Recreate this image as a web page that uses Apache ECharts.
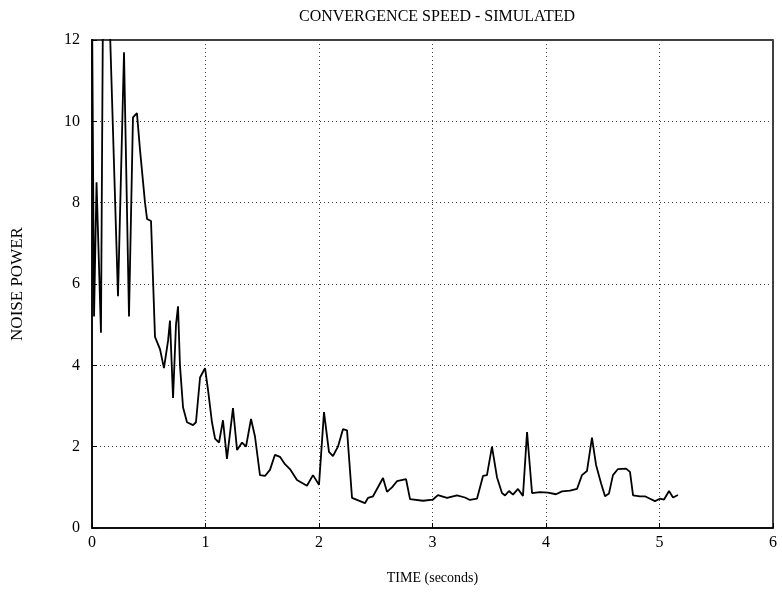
<!DOCTYPE html>
<html>
<head>
<meta charset="utf-8">
<script src="https://cdn.jsdelivr.net/npm/echarts@6/dist/echarts.min.js"></script>
<style>
html,body{margin:0;padding:0;background:#fff;}
#chart{width:782px;height:599px;}
</style>
</head>
<body>
<div id="chart"></div>
<script>
var timeSec = [0,0.018,0.040,0.079,0.097,0.150,0.229,0.282,0.326,0.361,0.396,0.423,0.467,0.485,0.520,0.555,0.599,0.634,0.670,0.687,0.714,0.740,0.758,0.775,0.802,0.837,0.890,0.916,0.952,0.996,1.022,1.057,1.084,1.119,1.154,1.189,1.242,1.278,1.322,1.357,1.401,1.436,1.480,1.524,1.568,1.612,1.656,1.700,1.744,1.806,1.894,1.947,2.000,2.044,2.088,2.123,2.167,2.211,2.247,2.291,2.405,2.432,2.476,2.564,2.599,2.643,2.687,2.767,2.802,2.916,3.004,3.048,3.128,3.216,3.286,3.330,3.392,3.445,3.480,3.524,3.568,3.612,3.639,3.674,3.709,3.753,3.797,3.833,3.877,3.947,4.018,4.088,4.141,4.211,4.273,4.317,4.361,4.405,4.441,4.485,4.520,4.555,4.590,4.634,4.705,4.740,4.767,4.828,4.872,4.916,4.960,5.004,5.040,5.084,5.119,5.163];
var noisePower = [13,5.2,8.5,4.8,13,13,5.7,11.7,5.2,10.1,10.2,9.3,8.0,7.6,7.55,4.7,4.4,3.93,4.6,5.1,3.2,5.0,5.45,4.0,2.97,2.6,2.53,2.6,3.7,3.93,3.4,2.6,2.2,2.1,2.65,1.7,2.95,1.92,2.1,2.0,2.68,2.25,1.3,1.28,1.43,1.8,1.75,1.57,1.45,1.18,1.04,1.3,1.06,2.85,1.87,1.77,2.0,2.43,2.4,0.74,0.61,0.74,0.78,1.23,0.89,1.0,1.15,1.2,0.71,0.67,0.7,0.81,0.74,0.8,0.75,0.69,0.72,1.28,1.3,2.0,1.25,0.86,0.8,0.91,0.82,0.96,0.79,2.36,0.86,0.88,0.87,0.83,0.9,0.92,0.96,1.3,1.4,2.22,1.55,1.1,0.78,0.85,1.3,1.45,1.46,1.38,0.8,0.78,0.78,0.72,0.66,0.72,0.7,0.91,0.75,0.81];
var xTicks = [0,1,2,3,4,5,6];
var yTicks = [0,2,4,6,8,10,12];

var pts = timeSec.map(function(t,i){return [t, noisePower[i]];});
var font = '"Liberation Serif", "DejaVu Serif", serif';
var chart = echarts.init(document.getElementById('chart'));
chart.setOption({
  animation:false,
  backgroundColor:'#fff',
  title:{text:'CONVERGENCE SPEED - SIMULATED', left:432, top:4, textAlign:'center',
    textStyle:{fontFamily:font, fontSize:16, fontWeight:'normal', color:'#000'}},
  grid:{left:92, right:9, top:40, bottom:71, show:true, borderColor:'#000', borderWidth:1.5, backgroundColor:'transparent'},
  xAxis:{type:'value', min:xTicks[0], max:xTicks[xTicks.length-1], interval:1,
    name:'TIME (seconds)', nameLocation:'middle', nameGap:43,
    nameTextStyle:{fontFamily:font, fontSize:14, color:'#000'},
    axisLine:{lineStyle:{color:'#000', width:1.5}},
    axisTick:{inside:true, length:5, lineStyle:{color:'#000'}},
    axisLabel:{fontFamily:font, fontSize:16, color:'#000', margin:7},
    splitLine:{show:true, lineStyle:{type:[1,3], color:'#444', width:1}}},
  yAxis:{type:'value', min:yTicks[0], max:yTicks[yTicks.length-1], interval:2,
    name:'NOISE POWER', nameLocation:'middle', nameGap:66,
    nameTextStyle:{fontFamily:font, fontSize:17, color:'#000'},
    axisLine:{show:true, lineStyle:{color:'#000', width:1.5}},
    axisTick:{show:true, inside:true, length:5, lineStyle:{color:'#000'}},
    axisLabel:{fontFamily:font, fontSize:16, color:'#000', margin:12},
    splitLine:{show:true, lineStyle:{type:[1,3], color:'#444', width:1}}},
  series:[{type:'line', data:pts, showSymbol:false, clip:true,
    lineStyle:{color:'#000', width:1.8}}]
});
</script>
</body>
</html>
